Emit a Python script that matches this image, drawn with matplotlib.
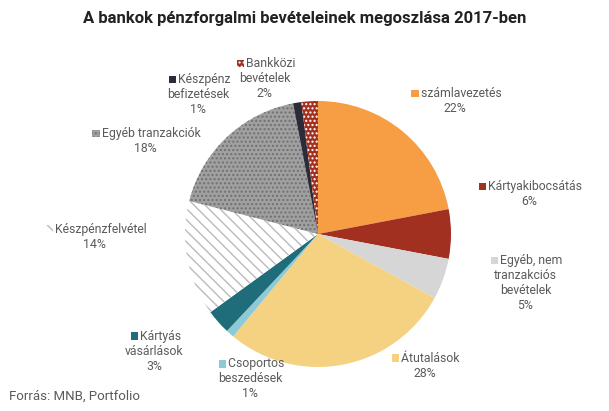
import matplotlib.pyplot as plt
from matplotlib.patches import Rectangle

plt.rcParams["font.family"] = "Roboto"

labels = ["számlavezetés", "Kártyakibocsátás", "Egyéb, nem\ntranzakciós\nbevételek",
          "Átutalások", "Csoportos\nbeszedések", "Kártyás\nvásárlások",
          "Készpénzfelvétel", "Egyéb tranzakciók", "Készpénz\nbefizetések",
          "Bankközi\nbevételek"]
values = [22, 6, 5, 28, 1, 3, 14, 18, 1, 2]
colors = ["#F79D44", "#A23021", "#D6D6D6", "#F5D281", "#8EC9D6", "#1F6D7A",
          "white", "#A0A0A0", "#2B2B3A", "#A23021"]
hatches = [None, None, None, None, None, None, "\\\\\\", "....", None, "...."]
edges = ["white"] * 6 + ["#BBBBBB", "#707070", "white", "white"]

# label anchor positions (in pie-radius units)
label_pos = [(1.03, 1.0), (1.59, 0.30), (1.56, -0.37), (0.80, -0.99), (-0.51, -1.09),
             (-1.23, -0.88), (-1.68, -0.02), (-1.30, 0.70), (-0.90, 1.05), (-0.40, 1.17)]

fig = plt.figure(figsize=(6.09, 4.11), dpi=100)
cx, cy, r = 318, 234, 133
ax = fig.add_axes([(cx - r) / 609, (411 - cy - r) / 411, 2 * r / 609, 2 * r / 411])
wedges, _ = ax.pie(values, colors=colors, startangle=90, counterclock=False,
                   wedgeprops=dict(linewidth=0))
for w, h, e in zip(wedges, hatches, edges):
    if h:
        w.set_hatch(h)
        w.set_edgecolor(e)
        w.set_linewidth(0)
ax.set_xlim(-1, 1)
ax.set_ylim(-1, 1)
ax.set_aspect("equal")
ax.axis("off")

txtc = "#595959"
fs = 8.8
renderer = fig.canvas.get_renderer()
for lab, v, (x, y), c, h, e in zip(labels, values, label_pos, colors, hatches, edges):
    lines = lab.split("\n")
    n = len(lines) + 1
    lh = 0.113
    top = y + (n - 1) * lh / 2
    first = ax.text(x, top, "    " + lines[0], ha="center", va="center",
                    fontsize=fs, color=txtc, clip_on=False)
    for i, ln in enumerate(lines[1:] + [f"{v}%"], start=1):
        ax.text(x, top - i * lh, ln, ha="center", va="center", fontsize=fs,
                color=txtc, clip_on=False)
    bb = first.get_window_extent(renderer).transformed(ax.transData.inverted())
    s = 0.055
    ax.add_patch(Rectangle((bb.x0 + 0.02, top - s / 2), s, s, facecolor=c,
                           hatch=h, edgecolor=e if h else c, linewidth=0, clip_on=False))

fig.text(0.5, 0.955, "A bankok pénzforgalmi bevételeinek megoszlása 2017-ben",
         ha="center", va="center", fontsize=12, fontweight="bold", color="#222222")
fig.text(0.015, 0.035, "Forrás: MNB, Portfolio", ha="left", va="center",
         fontsize=9.5, color="#595959")
fig.savefig("out.png", dpi=100)
